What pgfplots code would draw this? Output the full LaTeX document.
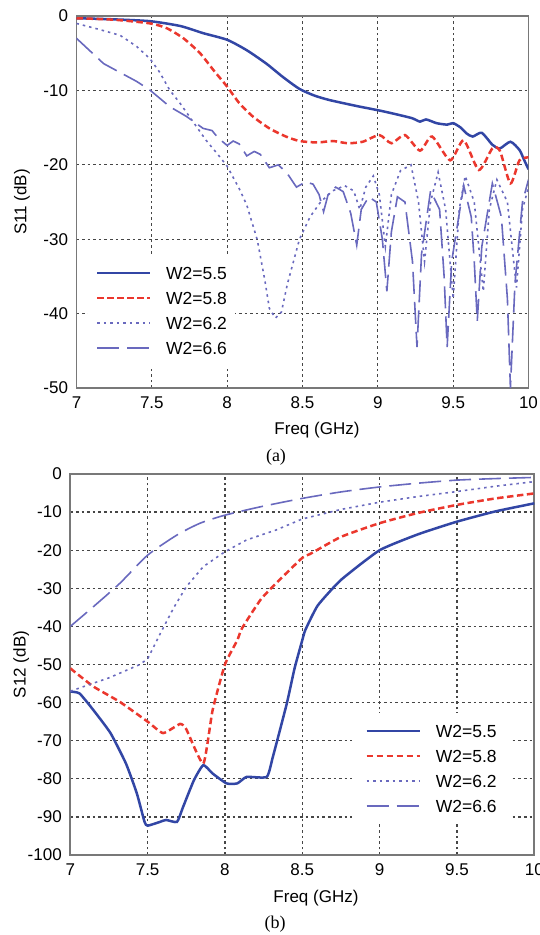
\documentclass[border=0pt]{standalone}
\usepackage{fontspec}
\setmainfont{Liberation Sans}
\newfontfamily\seriffont{Liberation Serif}
\usepackage{pgfplots}
\pgfplotsset{compat=1.18}

\definecolor{cblue}{RGB}{50,70,165}
\definecolor{cred}{RGB}{235,55,45}
\definecolor{clav}{RGB}{105,105,190}
\definecolor{cgrid}{RGB}{70,70,70}
\definecolor{caxis}{RGB}{120,120,120}

\pgfplotsset{
  mystyle/.style={
    scale only axis,
    axis line style={caxis, line width=1.8pt},
    major tick length=0pt,
    grid=major,
    grid style={cgrid, line width=1.3pt, dash pattern=on 2.6pt off 3pt},
    tick label style={font=\fontsize{17}{20}\selectfont},
    label style={font=\fontsize{17}{20}\selectfont},
    xticklabel style={yshift=-5pt},
    yticklabel style={xshift=-5pt},
    xmin=7, xmax=10,
    xtick={7,7.5,8,8.5,9,9.5,10},
    xticklabels={7,7.5,8,8.5,9,9.5,10},
    legend cell align=left,
    legend image code/.code={\draw[##1] (0pt,0pt) -- (53pt,0pt);},
    legend style={draw=none, fill=white, font=\fontsize{17.5}{20}\selectfont,
      row sep=12.5pt, column sep=14.5pt, inner xsep=8pt, inner ysep=11.75pt,
      nodes={inner sep=0pt, text height=12.5pt, text depth=0pt}},
  },
  s55/.style={cblue, line width=2.5pt},
  s58/.style={cred, line width=2.5pt, dash pattern=on 6.5pt off 3.5pt},
  s62/.style={clav, line width=1.6pt, dash pattern=on 2.5pt off 4pt},
  s66/.style={clav, line width=1.6pt, dash pattern=on 22pt off 8pt},
}

\begin{document}
\begin{tikzpicture}[x=1pt,y=1pt]
\path[use as bounding box] (0,0) rectangle (539,-935);

% ---------------- (a) S11 ----------------
\begin{axis}[mystyle,
  at={(76.5pt,-388pt)}, anchor=south west,
  width=452pt, height=372pt,
  ymin=-50, ymax=0,
  ytick={-50,-40,-30,-20,-10,0},
  yticklabels={-50,-40,-30,-20,-10,0},
  xlabel={Freq (GHz)},
  xlabel style={at={(axis description cs:0.532,-0.113)}, anchor=center},
  ylabel={S11 (dB)},
  ylabel style={at={(axis description cs:-0.1206,0.5)}, anchor=center},
  legend style={at={(axis cs:7.076,-32.1)}, anchor=north west},
]
\addplot[s55, smooth, tension=0.4] coordinates {
(7.00,-0.3) (7.25,-0.45) (7.49,-0.7) (7.69,-1.35) (7.84,-2.3) (8.00,-3.2)
(8.13,-4.6) (8.26,-6.4) (8.37,-8.2) (8.48,-9.8) (8.58,-10.7) (8.68,-11.3)
(8.86,-12.1) (9.01,-12.7) (9.12,-13.2) (9.23,-13.75) (9.28,-14.2) (9.32,-13.9)
(9.39,-14.4) (9.46,-14.6) (9.50,-14.4) (9.55,-15.0) (9.59,-15.8) (9.63,-16.2)
(9.69,-15.7) (9.76,-17.3) (9.81,-17.8) (9.88,-16.9) (9.94,-18.0) (9.97,-19.3) (10.0,-20.6)
};
\addlegendentry{W2=5.5}
\addplot[s58, smooth, tension=0.4] coordinates {
(7.00,-0.3) (7.25,-0.5) (7.49,-1.0) (7.60,-1.65) (7.71,-3.0) (7.82,-5.0)
(7.91,-7.3) (8.00,-9.5) (8.08,-11.7) (8.17,-13.5) (8.28,-15.1) (8.39,-16.2)
(8.48,-16.8) (8.60,-17.0) (8.70,-16.8) (8.80,-17.1) (8.90,-16.9) (9.01,-16.0)
(9.09,-17.1) (9.18,-16.0) (9.28,-18.1) (9.36,-16.2) (9.48,-19.4) (9.57,-16.7)
(9.67,-20.7) (9.76,-17.8) (9.81,-18.1) (9.88,-22.5) (9.94,-19.4) (10.0,-19.0)
};
\addlegendentry{W2=5.8}
\addplot[s62] coordinates {
(7.00,-1.0) (7.15,-1.8) (7.29,-2.6) (7.40,-4.1) (7.49,-5.8) (7.55,-7.5)
(7.62,-10.0) (7.69,-11.8) (7.78,-14.4) (7.86,-16.7) (7.95,-18.9) (8.00,-20.2)
(8.08,-23.2) (8.13,-25.4) (8.20,-30.1) (8.25,-35.5) (8.28,-39.3) (8.32,-40.6)
(8.36,-39.8) (8.40,-36.0) (8.44,-33.0) (8.48,-30.0) (8.55,-27.0) (8.62,-25.0)
(8.70,-23.5) (8.78,-22.8) (8.84,-23.5) (8.88,-26.0) (8.92,-23.0) (8.97,-21.5)
(9.01,-24) (9.05,-31) (9.09,-24) (9.15,-20.8) (9.22,-20.0) (9.27,-25)
(9.31,-33) (9.35,-25) (9.40,-21.0) (9.45,-26) (9.50,-38) (9.54,-26)
(9.58,-21.5) (9.64,-25) (9.70,-37) (9.74,-26) (9.79,-22.0) (9.86,-25)
(9.92,-36.5) (9.96,-26) (10.0,-23.0)
};
\addlegendentry{W2=6.2}
\addplot[s66] coordinates {
(7.00,-3.0) (7.18,-6.4) (7.29,-7.6) (7.40,-8.8) (7.49,-10.0) (7.62,-12.2)
(7.73,-13.5) (7.84,-15.1) (7.90,-15.4) (7.94,-16.4) (8.00,-17.4) (8.04,-16.8)
(8.08,-17.2) (8.13,-18.8) (8.18,-18.2) (8.22,-18.6) (8.28,-20.4) (8.34,-20.0)
(8.40,-21.2) (8.46,-23.0) (8.52,-22.3) (8.57,-22.6) (8.61,-24.0) (8.64,-26.3)
(8.67,-24.0) (8.72,-23.0) (8.77,-23.6) (8.82,-26.5) (8.86,-30.8) (8.89,-26.0)
(8.94,-24.3) (8.99,-25.0) (9.03,-30.0) (9.06,-37.0) (9.09,-29.0) (9.13,-24.3)
(9.18,-25.0) (9.23,-33.0) (9.26,-44.5) (9.29,-32.0) (9.35,-23.5) (9.41,-26.0)
(9.44,-35.0) (9.46,-44.5) (9.49,-33.0) (9.57,-22.8) (9.62,-27.0) (9.64,-33.0)
(9.66,-41.0) (9.69,-31.0) (9.76,-22.5) (9.82,-27.0) (9.86,-38.0) (9.88,-50.0)
(9.91,-36.0) (9.96,-25.0) (10.0,-22.0)
};
\addlegendentry{W2=6.6}
\end{axis}
\node[font=\seriffont\fontsize{18}{20}\selectfont] at (276,-457) {(a)};

% ---------------- (b) S12 ----------------
\begin{axis}[mystyle,
  at={(70.3pt,-855pt)}, anchor=south west,
  width=464pt, height=381pt,
  ymin=-100, ymax=0,
  ytick={-100,-90,-80,-70,-60,-50,-40,-30,-20,-10,0},
  yticklabels={-100,-90,-80,-70,-60,-50,-40,-30,-20,-10,0},
  xlabel={Freq (GHz)},
  xlabel style={at={(axis description cs:0.5295,-0.113)}, anchor=center},
  ylabel={S12 (dB)},
  ylabel style={at={(axis description cs:-0.1056,0.5)}, anchor=center},
  legend style={at={(axis cs:8.822,-62.7)}, anchor=north west, inner xsep=13pt, column sep=15pt},
]
\addplot[s55, smooth, tension=0.3] coordinates {
(7.00,-57.1) (7.06,-57.6) (7.15,-62) (7.26,-68) (7.36,-76) (7.43,-83.8)
(7.48,-91.3) (7.50,-92.3) (7.58,-91.3) (7.62,-90.8) (7.69,-91.3) (7.73,-87.3)
(7.80,-80.3) (7.86,-76.4) (7.92,-78.6) (8.01,-81.2) (8.08,-81.2) (8.14,-79.5)
(8.27,-79.5) (8.31,-74.2) (8.40,-60.2) (8.45,-51) (8.50,-43.6) (8.52,-40.9)
(8.60,-34.5) (8.75,-27.8) (9.00,-20) (9.25,-15.8) (9.50,-12.5) (9.75,-9.8) (10.0,-7.7)
};
\addlegendentry{W2=5.5}
\addplot[s58, smooth, tension=0.3] coordinates {
(7.00,-51) (7.15,-55.8) (7.32,-59.8) (7.50,-65) (7.60,-68) (7.71,-65.6)
(7.75,-67) (7.86,-76) (7.92,-62) (8.00,-50) (8.08,-43.6) (8.11,-40.5)
(8.23,-33) (8.33,-28.7) (8.50,-22) (8.55,-21) (8.75,-16.5) (9.00,-12.9)
(9.25,-10.2) (9.50,-8.1) (9.75,-6.4) (10.0,-5.1)
};
\addlegendentry{W2=5.8}
\addplot[s62] coordinates {
(7.00,-57) (7.25,-53.5) (7.45,-50) (7.50,-48.5) (7.58,-42) (7.67,-35) (7.75,-29.6)
(7.86,-24.3) (8.00,-20.4) (8.14,-17.3) (8.33,-14.7) (8.50,-11.8) (8.75,-9.3)
(9.00,-7.4) (9.25,-5.9) (9.50,-4.6) (9.75,-3.2) (10.0,-2.0)
};
\addlegendentry{W2=6.2}
\addplot[s66, smooth, tension=0.4] coordinates {
(7.00,-40) (7.15,-34.8) (7.32,-28.7) (7.50,-21.3) (7.69,-16) (7.84,-12.9)
(8.00,-10.8) (8.23,-8.6) (8.50,-6.4) (8.75,-4.7) (9.00,-3.4) (9.25,-2.4)
(9.50,-1.6) (9.75,-1.2) (10.0,-0.9)
};
\addlegendentry{W2=6.6}
\end{axis}
\node[font=\seriffont\fontsize{18}{20}\selectfont] at (275,-924) {(b)};
\end{tikzpicture}
\end{document}
